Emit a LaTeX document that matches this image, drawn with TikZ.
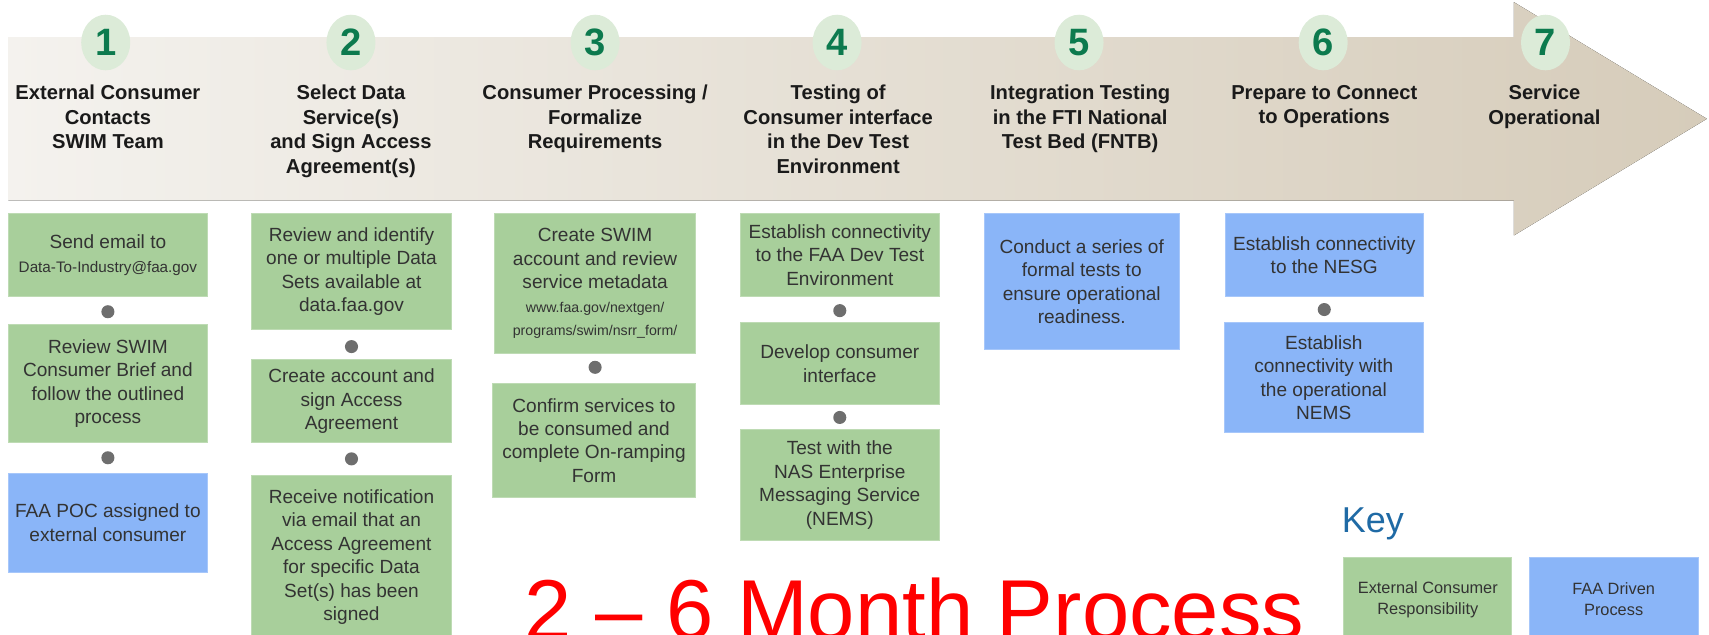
\documentclass[tikz,border=0pt]{standalone}
\usepackage{fontspec}
\setmainfont{Liberation Sans}
\usetikzlibrary{shapes.geometric}
\definecolor{arrL}{HTML}{F4F2EE}
\definecolor{arrR}{HTML}{D6CCBA}
\definecolor{gfill}{HTML}{A8CF9B}
\definecolor{bfill}{HTML}{8AB5F8}
\definecolor{circ}{HTML}{DCEBD8}
\definecolor{numc}{HTML}{0C7A4E}
\definecolor{bodytxt}{HTML}{333333}
\definecolor{headtxtc}{HTML}{1A1A1A}
\definecolor{keyc}{HTML}{1F6AA5}
\definecolor{dotc}{HTML}{6E6E6E}
\begin{document}
\begin{tikzpicture}[x=1pt,y=-1pt,
  numnode/.style={ellipse, fill=circ, minimum width=45pt, minimum height=51pt, inner sep=0pt, text=numc, font=\fontsize{35}{35}\selectfont\bfseries},
  headtxt/.style={anchor=north, align=center, inner sep=0pt, text=headtxtc, font=\fontsize{18.5}{22.5}\selectfont\bfseries},
  gbox/.style={fill=gfill, draw=gfill!75!white, line width=0.8pt, align=center, inner sep=0pt, text=bodytxt, font=\fontsize{17.5}{21.5}\selectfont},
  bbox/.style={gbox, fill=bfill, draw=bfill!75!white},
  sz/.style 2 args={minimum width=#1pt, minimum height=#2pt},
  dotn/.style={circle, fill=dotc, minimum size=12pt, inner sep=0pt},
  keybox/.style={gbox, font=\fontsize{15}{19}\selectfont},
]
\useasboundingbox (0,0) rectangle (1568,582);
% big arrow
\fill[left color=arrL, right color=arrR] (8,34) -- (1389,34) -- (1389,2) -- (1566,109) -- (1389,216) -- (1389,184) -- (8,184) -- cycle;

% step numbers
\node[numnode] (n1) at (97,39) {1};
\node[numnode] (n2) at (322,39) {2};
\node[numnode] (n3) at (546,39) {3};
\node[numnode] (n4) at (768,39) {4};
\node[numnode] (n5) at (990,39) {5};
\node[numnode] (n6) at (1214,39) {6};
\node[numnode] (n7) at (1418,39) {7};

% headers
\node[headtxt] (h1) at (99,78) {External Consumer\\Contacts\\SWIM Team};
\node[headtxt] (h2) at (322,78) {Select Data\\Service(s)\\and Sign Access\\Agreement(s)};
\node[headtxt] (h3) at (546,78) {Consumer Processing /\\Formalize\\Requirements};
\node[headtxt] (h4) at (769,78) {Testing of\\Consumer interface\\in the Dev Test\\Environment};
\node[headtxt] (h5) at (991,78) {Integration Testing\\in the FTI National\\Test Bed (FNTB)};
\node[headtxt] (h6) at (1215,78) {Prepare to Connect\\to Operations};
\node[headtxt] (h7) at (1417,78) {Service\\Operational};

% column 1
\node[gbox, sz={182}{76}] (b1a) at (99,234) {Send email to\\\fontsize{14}{19}\selectfont Data-To-Industry@faa.gov};
\node[dotn] (d1a) at (99,286) {};
\node[gbox, sz={182}{108}] (b1b) at (99,352) {Review SWIM\\Consumer Brief and\\follow the outlined\\process};
\node[dotn] (d1b) at (99,420) {};
\node[bbox, sz={182}{91}] (b1c) at (99,479.5) {FAA POC assigned to\\external consumer};

% column 2
\node[gbox, sz={183}{106}] (b2a) at (322.5,249) {Review and identify\\one or multiple Data\\Sets available at\\data.faa.gov};
\node[dotn] (d2a) at (322.5,318) {};
\node[gbox, sz={183}{76}] (b2b) at (322.5,368) {Create account and\\sign Access\\Agreement};
\node[dotn] (d2b) at (322.5,421) {};
\node[gbox, sz={183}{150}] (b2c) at (322.5,511) {Receive notification\\via email that an\\Access Agreement\\for specific Data\\Set(s) has been\\signed};

% column 3
\node[gbox, sz={184}{128}] (b3a) at (546,260) {Create SWIM\\account and review\\service metadata\\\fontsize{13}{16}\selectfont www.faa.gov/nextgen/\\\fontsize{13}{16}\selectfont programs/swim/nsrr\_form/};
\node[dotn] (d3a) at (546,337) {};
\node[gbox, sz={186}{104}] (b3b) at (545,404) {Confirm services to\\be consumed and\\complete On-ramping\\Form};

% column 4
\node[gbox, sz={183}{76}] (b4a) at (770.5,234) {Establish connectivity\\to the FAA Dev Test\\Environment};
\node[dotn] (d4a) at (770.5,285) {};
\node[gbox, sz={183}{75}] (b4b) at (770.5,333.5) {Develop consumer\\interface};
\node[dotn] (d4b) at (770.5,383) {};
\node[gbox, sz={183}{102}] (b4c) at (770.5,445) {Test with the\\NAS Enterprise\\Messaging Service\\(NEMS)};

% column 5
\node[bbox, sz={179}{125}] (b5) at (992.5,258.5) {Conduct a series of\\formal tests to\\ensure operational\\readiness.};

% column 6
\node[bbox, sz={182}{76}] (b6a) at (1215,234) {Establish connectivity\\to the NESG};
\node[dotn] (d6a) at (1215,284) {};
\node[bbox, sz={183}{101}] (b6b) at (1214.5,346.5) {Establish\\connectivity with\\the operational\\NEMS};

% key
\node[anchor=base west, inner sep=0pt, text=keyc, font=\fontsize{33}{33}\selectfont] (key) at (1231,489) {Key};
\node[keybox, sz={154}{78}] (kg) at (1310,550) {External Consumer\\Responsibility};
\node[keybox, fill=bfill, draw=bfill!75!white, sz={155}{78}] (kb) at (1480.5,550) {FAA Driven\\Process};

% duration
\node[anchor=base west, inner sep=0pt, text=red, font=\fontsize{78}{78}\selectfont] (dur) at (481,587) {2 – 6 Month Process};
\end{tikzpicture}
\end{document}
